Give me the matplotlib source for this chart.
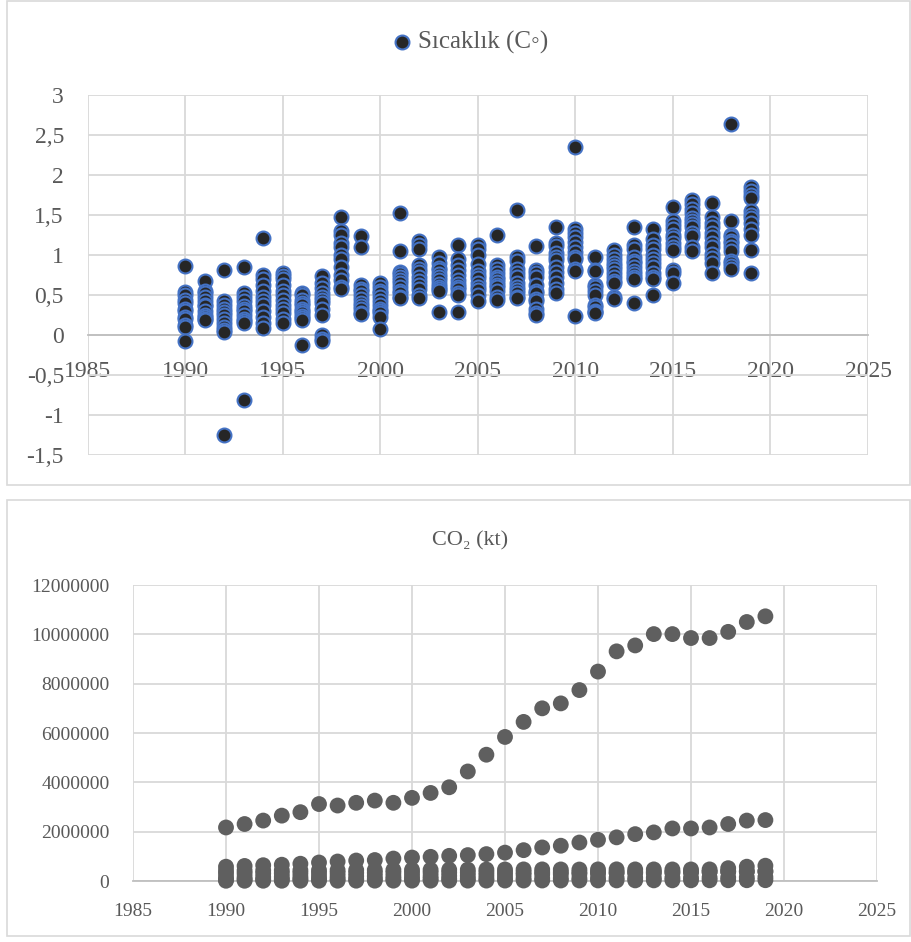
import matplotlib
matplotlib.use("Agg")
import matplotlib.pyplot as plt
from matplotlib.patches import Rectangle
from matplotlib.ticker import FuncFormatter

plt.rcParams['font.family'] = ['Liberation Serif', 'DejaVu Serif']

# ---------------- data ----------------
years = list(range(1990, 2020))

t1990 = [0.86, 0.54, 0.50, 0.44, 0.40, 0.33, 0.30, 0.23, 0.20, 0.13, 0.10, -0.07]
t1991 = [0.68, 0.55, 0.52, 0.48, 0.42, 0.38, 0.36, 0.30, 0.25, 0.22, 0.20, 0.19]
t1992 = [0.81, 0.42, 0.38, 0.33, 0.29, 0.25, 0.20, 0.15, 0.10, 0.06, 0.04, -1.25]
t1993 = [0.85, 0.53, 0.47, 0.42, 0.36, 0.33, 0.30, 0.25, 0.20, 0.17, 0.15, -0.81]
t1994 = [1.21, 0.75, 0.70, 0.63, 0.55, 0.48, 0.42, 0.375, 0.30, 0.23, 0.15, 0.09]
t1995 = [0.78, 0.74, 0.70, 0.62, 0.55, 0.50, 0.44, 0.38, 0.33, 0.27, 0.20, 0.15]
t1996 = [0.53, 0.50, 0.44, 0.40, 0.37, 0.33, 0.30, 0.27, 0.24, 0.21, 0.19, -0.13]
t1997 = [0.74, 0.65, 0.59, 0.52, 0.48, 0.44, 0.40, 0.33, 0.25, 0.00, -0.05, -0.08]
t1998 = [1.47, 1.30, 1.25, 1.15, 1.10, 1.00, 0.95, 0.85, 0.75, 0.69, 0.60, 0.57]
t1999 = [1.24, 1.10, 0.63, 0.58, 0.55, 0.50, 0.45, 0.40, 0.36, 0.32, 0.28, 0.26]
t2000 = [0.65, 0.60, 0.55, 0.52, 0.47, 0.42, 0.375, 0.33, 0.30, 0.27, 0.22, 0.08]
t2001 = [1.52, 1.05, 0.79, 0.76, 0.72, 0.69, 0.65, 0.60, 0.55, 0.52, 0.48, 0.46]
t2002 = [1.17, 1.12, 1.08, 0.88, 0.83, 0.79, 0.72, 0.67, 0.62, 0.58, 0.50, 0.46]
t2003 = [0.98, 0.90, 0.84, 0.81, 0.76, 0.72, 0.69, 0.64, 0.60, 0.57, 0.55, 0.29]
t2004 = [1.13, 0.95, 0.87, 0.81, 0.75, 0.69, 0.64, 0.60, 0.57, 0.53, 0.50, 0.29]
t2005 = [1.13, 1.08, 1.00, 0.89, 0.80, 0.75, 0.71, 0.65, 0.60, 0.56, 0.50, 0.42]
t2006 = [1.25, 0.87, 0.83, 0.78, 0.72, 0.70, 0.66, 0.63, 0.60, 0.55, 0.48, 0.44]
t2007 = [1.56, 0.98, 0.92, 0.83, 0.78, 0.72, 0.65, 0.60, 0.56, 0.52, 0.48, 0.46]
t2008 = [1.11, 0.81, 0.77, 0.73, 0.62, 0.55, 0.52, 0.45, 0.42, 0.33, 0.28, 0.25]
t2009 = [1.35, 1.15, 1.11, 1.03, 0.98, 0.94, 0.85, 0.79, 0.72, 0.65, 0.58, 0.52]
t2010 = [2.35, 1.32, 1.27, 1.22, 1.16, 1.10, 1.04, 0.98, 0.95, 0.82, 0.80, 0.24]
t2011 = [0.98, 0.81, 0.80, 0.63, 0.60, 0.55, 0.50, 0.38, 0.35, 0.30, 0.29, 0.28]
t2012 = [1.06, 1.00, 0.95, 0.90, 0.86, 0.83, 0.78, 0.72, 0.67, 0.65, 0.48, 0.45]
t2013 = [1.35, 1.13, 1.08, 0.98, 0.93, 0.90, 0.85, 0.80, 0.76, 0.73, 0.70, 0.40]
t2014 = [1.32, 1.20, 1.13, 1.07, 1.00, 0.95, 0.90, 0.85, 0.77, 0.73, 0.70, 0.50]
t2015 = [1.60, 1.42, 1.38, 1.33, 1.25, 1.21, 1.15, 1.10, 1.06, 0.81, 0.78, 0.65]
t2016 = [1.69, 1.64, 1.58, 1.52, 1.46, 1.42, 1.39, 1.35, 1.28, 1.24, 1.10, 1.05]
t2017 = [1.65, 1.48, 1.40, 1.35, 1.28, 1.23, 1.15, 1.10, 1.01, 0.96, 0.90, 0.77]
t2018 = [2.64, 1.43, 1.25, 1.23, 1.18, 1.15, 1.10, 1.05, 0.92, 0.90, 0.86, 0.83]
t2019 = [1.85, 1.80, 1.75, 1.71, 1.55, 1.50, 1.46, 1.40, 1.33, 1.25, 1.06, 0.78]

temp_lists = [t1990, t1991, t1992, t1993, t1994, t1995, t1996, t1997, t1998, t1999,
              t2000, t2001, t2002, t2003, t2004, t2005, t2006, t2007, t2008, t2009,
              t2010, t2011, t2012, t2013, t2014, t2015, t2016, t2017, t2018, t2019]

co2_series1 = [2170000, 2310000, 2450000, 2650000, 2790000, 3120000, 3060000, 3170000, 3260000, 3170000,
               3370000, 3570000, 3800000, 4440000, 5120000, 5840000, 6450000, 7000000, 7200000, 7740000,
               8490000, 9310000, 9550000, 10010000, 10010000, 9850000, 9850000, 10100000, 10500000, 10730000]
co2_series2 = [580000, 610000, 640000, 660000, 700000, 750000, 790000, 830000, 850000, 910000,
               950000, 980000, 1020000, 1050000, 1090000, 1150000, 1250000, 1360000, 1430000, 1560000,
               1670000, 1770000, 1900000, 1970000, 2130000, 2130000, 2170000, 2310000, 2450000, 2470000]
co2_series3 = [420000, 425000, 430000, 432000, 435000, 440000, 442000, 445000, 447000, 450000,
               455000, 458000, 460000, 462000, 465000, 468000, 470000, 470000, 468000, 465000,
               470000, 472000, 470000, 470000, 468000, 468000, 470000, 520000, 580000, 620000]
co2_series4 = [300000, 305000, 310000, 312000, 315000, 320000, 325000, 330000, 332000, 335000,
               340000, 342000, 345000, 348000, 350000, 352000, 355000, 358000, 360000, 355000,
               360000, 362000, 365000, 368000, 370000, 372000, 375000, 380000, 390000, 400000]
co2_series5 = [150000, 155000, 160000, 165000, 170000, 175000, 185000, 195000, 195000, 190000,
               205000, 195000, 205000, 215000, 225000, 235000, 255000, 280000, 280000, 285000,
               300000, 315000, 320000, 315000, 330000, 350000, 370000, 390000, 385000, 380000]
co2_series6 = [60000, 62000, 64000, 66000, 68000, 70000, 72000, 75000, 78000, 80000,
               82000, 85000, 88000, 90000, 95000, 100000, 105000, 110000, 112000, 115000,
               120000, 125000, 128000, 130000, 132000, 135000, 140000, 145000, 150000, 155000]
co2_series7 = [10000, 10000, 11000, 11000, 12000, 12000, 13000, 13000, 14000, 14000,
               15000, 15000, 16000, 16000, 17000, 18000, 19000, 20000, 21000, 22000,
               23000, 24000, 25000, 26000, 27000, 28000, 29000, 30000, 31000, 32000]

co2_all = [co2_series1, co2_series2, co2_series3, co2_series4, co2_series5, co2_series6, co2_series7]

x_ticks = [1985, 1990, 1995, 2000, 2005, 2010, 2015, 2020, 2025]
temp_ticks = [-1.5, -1, -0.5, 0, 0.5, 1, 1.5, 2, 2.5, 3]
co2_ticks = [0, 2000000, 4000000, 6000000, 8000000, 10000000, 12000000]

legend_label = "Sıcaklık (C◦)"
co2_title = "CO₂ (kt)"

# ---------------- style ----------------
W, H = 912, 942
fig = plt.figure(figsize=(W / 100, H / 100), dpi=100)
fig.patch.set_facecolor('white')

text_col = '#595959'
grid_col = '#d9d9d9'
axis_col = '#bfbfbf'
box_col = '#d9d9d9'

# outer frames
fig.add_artist(Rectangle((7 / W, 1 - 485 / H), (910 - 7) / W, (485 - 1) / H,
                         transform=fig.transFigure, fill=False, edgecolor=box_col, lw=1.2))
fig.add_artist(Rectangle((7 / W, 1 - 936 / H), (910 - 7) / W, (936 - 500) / H,
                         transform=fig.transFigure, fill=False, edgecolor=box_col, lw=1.2))

# ---------------- top chart ----------------
ax1 = fig.add_axes([87.5 / W, 1 - 455 / H, (868 - 87.5) / W, 360 / H])
ax1.set_xlim(1985, 2025)
ax1.set_ylim(-1.5, 3)
ax1.set_xticks(x_ticks)
ax1.set_yticks(temp_ticks)
ax1.grid(True, color=grid_col, lw=1.3)
ax1.set_axisbelow(True)
for s in ['top', 'right', 'left']:
    ax1.spines[s].set_visible(False)
ax1.spines['bottom'].set_position(('data', 0))
ax1.spines['bottom'].set_color(axis_col)
ax1.spines['bottom'].set_linewidth(1.3)
ax1.spines['bottom'].set_zorder(1)
ax1.tick_params(axis='both', length=0, labelsize=17, colors=text_col)
ax1.tick_params(axis='x', pad=19)
ax1.tick_params(axis='y', pad=17)
ax1.yaxis.set_major_formatter(FuncFormatter(lambda v, p: ('%g' % v).replace('.', ',')))

first = True
for yr, vals in zip(years, temp_lists):
    ax1.scatter([yr] * len(vals), vals, s=100, c='#262626', edgecolors='#4472C4',
                linewidths=1.5, zorder=3, label=legend_label if first else None)
    first = False

leg = ax1.legend(loc='center', bbox_to_anchor=(463 / W, 1 - 42 / H),
                 bbox_transform=fig.transFigure, frameon=False, fontsize=18,
                 handletextpad=-0.35, borderaxespad=0, markerscale=1.0)
for t in leg.get_texts():
    t.set_color(text_col)

# ---------------- bottom chart ----------------
ax2 = fig.add_axes([133 / W, 1 - 881 / H, (877 - 133) / W, 296 / H])
ax2.set_xlim(1985, 2025)
ax2.set_ylim(0, 12000000)
ax2.set_xticks(x_ticks)
ax2.set_yticks(co2_ticks)
ax2.grid(True, color=grid_col, lw=1.3)
ax2.set_axisbelow(True)
for s in ['top', 'right', 'left']:
    ax2.spines[s].set_visible(False)
ax2.spines['bottom'].set_color(axis_col)
ax2.spines['bottom'].set_linewidth(1.3)
ax2.tick_params(axis='both', length=0, labelsize=14, colors=text_col)
ax2.tick_params(axis='x', pad=16)
ax2.tick_params(axis='y', pad=17)
ax2.yaxis.set_major_formatter(FuncFormatter(lambda v, p: '%d' % v))

for series in co2_all:
    ax2.scatter(years, series, s=130, c='#5f5f5f', edgecolors='none', zorder=3, clip_on=False)

fig.text(470 / W, 1 - 541 / H, co2_title, ha='center', va='center',
         fontsize=16, color=text_col)

fig.savefig('out.png', dpi=100, facecolor='white')
